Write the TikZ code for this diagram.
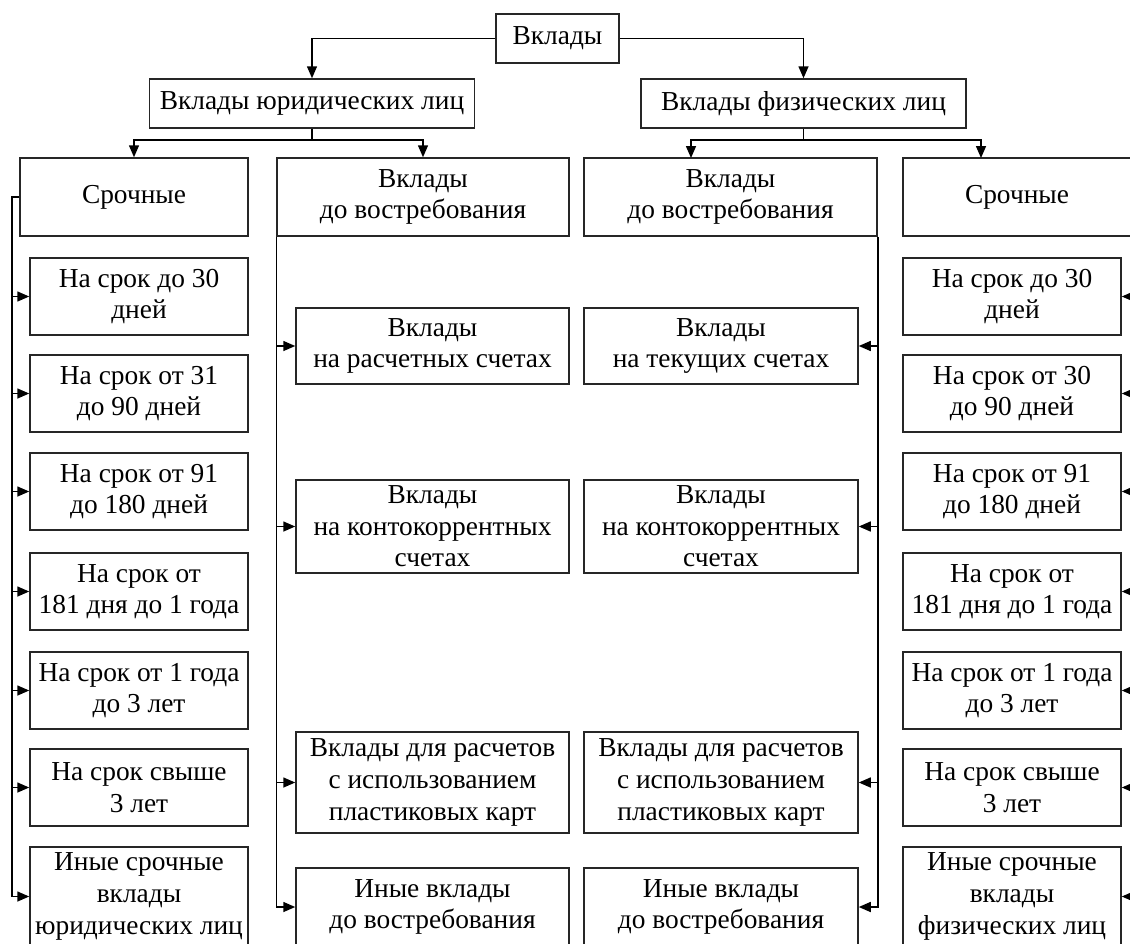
\documentclass[tikz,border=0pt]{standalone}
\usepackage{fontspec}
\setmainfont{Liberation Serif}
\newfontfamily\boxfont{Liberation Serif}
\usetikzlibrary{arrows.meta}

\tikzset{
  box/.style 2 args={draw=black!85, line width=0.75pt, inner sep=0pt,
    minimum width={#1*0.5pt}, minimum height={#2*0.5pt},
    align=center, font=\boxfont\fontsize{13.7}{15.8}\selectfont},
  link/.style={line width=0.75pt, draw=black},
  arr/.style={link, -{Triangle[length=6pt,width=5pt]}}
}

\begin{document}
\begin{tikzpicture}[x=0.5pt,y=-0.5pt]
\useasboundingbox (0,0) rectangle (1130,943);
\clip (0,0) rectangle (1130,943);

% upper levels
\node[box={123}{49}] (top) at (557.5,38.5) {Вклады};
\node[box={325}{49}] (ul) at (312,103.5) {Вклады юридических лиц};
\node[box={325}{49}] (fl) at (803.5,103.5) {Вклады физических лиц};

\node[box={228}{78}] (ls) at (134,197) {Срочные};
\node[box={292}{78}] (ld) at (423,197) {Вклады\\до востребования};
\node[box={293}{78}] (rd) at (730.5,197) {Вклады\\до востребования};
\node[box={228}{78}] (rs) at (1017,197) {Срочные};

% term deposits of legal entities
\node[box={218}{77}] (l1) at (139,296.5) {На срок до 30\\дней};
\node[box={218}{77}] (l2) at (139,393.5) {На срок от 31\\до 90 дней};
\node[box={218}{77}] (l3) at (139,491.5) {На срок от 91\\до 180 дней};
\node[box={218}{77}] (l4) at (139,591.5) {На срок от\\181 дня до 1 года};
\node[box={218}{77}] (l5) at (139,690.5) {На срок от 1 года\\до 3 лет};
\node[box={218}{77}] (l6) at (139,787.5) {На срок свыше\\3 лет};
\node[box={218}{99}] (l7) at (139,896.5) {Иные срочные\\вклады\\юридических лиц};

% demand deposits of legal entities
\node[box={273}{76}] (m1) at (432.5,346) {Вклады\\на расчетных счетах};
\node[box={273}{93}] (m2) at (432.5,526.5) {Вклады\\на контокоррентных\\счетах};
\node[box={273}{101}] (m3) at (432.5,782.5) {Вклады для расчетов\\с использованием\\пластиковых карт};
\node[box={273}{78}] (m4) at (432.5,907) {Иные вклады\\до востребования};

% demand deposits of individuals
\node[box={274}{76}] (n1) at (721,346) {Вклады\\на текущих счетах};
\node[box={274}{93}] (n2) at (721,526.5) {Вклады\\на контокоррентных\\счетах};
\node[box={274}{101}] (n3) at (721,782.5) {Вклады для расчетов\\с использованием\\пластиковых карт};
\node[box={274}{78}] (n4) at (721,907) {Иные вклады\\до востребования};

% term deposits of individuals
\node[box={218}{77}] (r1) at (1012,296.5) {На срок до 30\\дней};
\node[box={218}{77}] (r2) at (1012,393.5) {На срок от 30\\до 90 дней};
\node[box={218}{77}] (r3) at (1012,491.5) {На срок от 91\\до 180 дней};
\node[box={218}{77}] (r4) at (1012,591.5) {На срок от\\181 дня до 1 года};
\node[box={218}{77}] (r5) at (1012,690.5) {На срок от 1 года\\до 3 лет};
\node[box={218}{77}] (r6) at (1012,787.5) {На срок свыше\\3 лет};
\node[box={218}{99}] (r7) at (1012,896.5) {Иные срочные\\вклады\\физических лиц};

% top level connectors
\draw[arr] (top.west) -| (ul.north);
\draw[arr] (top.east) -| (fl.north);

\coordinate (ub) at (312,140);
\draw[link] (ul.south) -- (ub);
\draw[arr] (ub) -| (ls.north);
\draw[arr] (ub) -| (ld.north);

\coordinate (fb) at (803.5,140);
\coordinate (rdin) at (691,158);
\coordinate (rsin) at (981,158);
\draw[link] (fl.south) -- (fb);
\draw[arr] (fb) -| (rdin);
\draw[arr] (fb) -| (rsin);

% left trunk
\coordinate (lt) at (12,197);
\draw[arr] (ls.west) -- (lt) |- (l7.west);
\foreach \n in {l1,l2,l3,l4,l5,l6}
  \draw[arr] (lt |- \n.west) -- (\n.west);

% demand trunks
\draw[arr] (ld.south west) |- (m4.west);
\foreach \n in {m1,m2,m3}
  \draw[arr] (ld.south west |- \n.west) -- (\n.west);
\draw[arr] (rd.south east) |- (n4.east);
\foreach \n in {n1,n2,n3}
  \draw[arr] (rd.south east |- \n.east) -- (\n.east);

% right trunk
\coordinate (rt) at (1139,197);
\draw[arr] (rs.east) -- (rt) |- (r7.east);
\foreach \n in {r1,r2,r3,r4,r5,r6}
  \draw[arr] (rt |- \n.east) -- (\n.east);
\end{tikzpicture}
\end{document}
